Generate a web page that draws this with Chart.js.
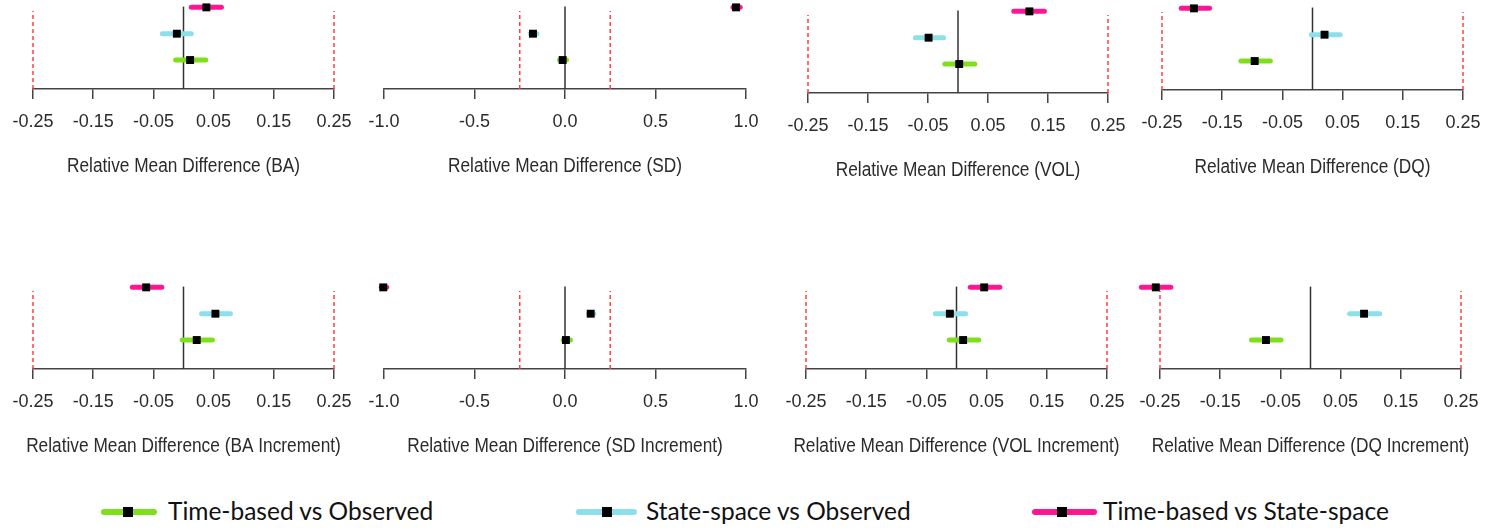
<!DOCTYPE html>
<html>
<head>
<meta charset="utf-8">
<script src="https://cdn.jsdelivr.net/npm/chart.js@4.4.1/dist/chart.umd.min.js"></script>
<style>
    body {
        margin: 0;
        width: 1491px;
        height: 530px;
        background: #fff;
        position: relative;
        overflow: hidden;
    }
    .panel {
        position: absolute;
    }
    .key-line {
        position: absolute;
        height: 6px;
        border-radius: 3px;
    }
    .key-box {
        position: absolute;
        width: 10px;
        height: 10px;
        background: #000;
    }
    .key-text {
        position: absolute;
        font-family: Lato, 'Open Sans', sans-serif;
        font-size: 24.5px;
        line-height: 1.2;
        color: #111;
        white-space: nowrap;
    }
</style>
</head>
<body>
<script>
// comparisons (rows from bottom to top) and their colours
const comparisons = ['Time-based vs Observed', 'State-space vs Observed', 'Time-based vs State-space'];
const seriesColors = ['#7ee01a', '#8ddfea', '#ff1493'];
const rowPositions = [1, 2, 3];

const panelTitles = [
    'Relative Mean Difference (BA)',
    'Relative Mean Difference (SD)',
    'Relative Mean Difference (VOL)',
    'Relative Mean Difference (DQ)',
    'Relative Mean Difference (BA Increment)',
    'Relative Mean Difference (SD Increment)',
    'Relative Mean Difference (VOL Increment)',
    'Relative Mean Difference (DQ Increment)'
];
const panelIsWide = [false, true, false, false, false, true, false, false];

const tickValuesNarrow = [-0.25, -0.15, -0.05, 0.05, 0.15, 0.25];
const tickLabelsNarrow = ['-0.25', '-0.15', '-0.05', '0.05', '0.15', '0.25'];
const tickValuesWide = [-1, -0.5, 0, 0.5, 1];
const tickLabelsWide = ['-1.0', '-0.5', '0.0', '0.5', '1.0'];
const equivalenceBounds = [-0.25, 0.25];

// Time-based vs Observed
const meanTimeObs = [0.011, -0.013, 0.002, -0.096, 0.022, 0.005, 0.011, -0.074];
const lowTimeObs = [-0.013, -0.030, -0.022, -0.119, -0.002, -0.010, -0.012, -0.098];
const highTimeObs = [0.037, 0.008, 0.028, -0.070, 0.048, 0.030, 0.037, -0.049];

// State-space vs Observed
const meanStateObs = [-0.011, -0.177, -0.049, 0.020, 0.053, 0.142, -0.011, 0.089];
const lowStateObs = [-0.035, -0.192, -0.071, -0.002, 0.030, 0.130, -0.035, 0.065];
const highStateObs = [0.013, -0.155, -0.024, 0.046, 0.078, 0.160, 0.015, 0.115];

// Time-based vs State-space
const meanTimeState = [0.038, 0.945, 0.119, -0.197, -0.062, -1.004, 0.046, -0.257];
const lowTimeState = [0.013, 0.928, 0.093, -0.218, -0.085, -1.015, 0.023, -0.281];
const highTimeState = [0.063, 0.968, 0.144, -0.171, -0.036, -0.985, 0.072, -0.232];

const means = [meanTimeObs, meanStateObs, meanTimeState];
const lows = [lowTimeObs, lowStateObs, lowTimeState];
const highs = [highTimeObs, highStateObs, highTimeState];

// page layout of each panel: axis start, axis end, axis line y
const panelBoxes = [
    { left: 33, right: 334, axisY: 89 },
    { left: 384, right: 746, axisY: 89 },
    { left: 808, right: 1108, axisY: 93 },
    { left: 1162, right: 1463, axisY: 90 },
    { left: 33, right: 334, axisY: 369 },
    { left: 384, right: 746, axisY: 369 },
    { left: 806, right: 1107, axisY: 369 },
    { left: 1160, right: 1461, axisY: 369 }
];

const legendBoxes = [
    { lineLeft: 101, lineWidth: 56, boxX: 128, textLeft: 168 },
    { lineLeft: 576, lineWidth: 61, boxX: 607, textLeft: 646 },
    { lineLeft: 1032, lineWidth: 65, boxX: 1062, textLeft: 1103 }
];

const tickFont = { family: "'Liberation Sans', Arial, sans-serif", size: 18 };
const plotHeight = 89;
const axisBoxHeight = 92;
const padX = 40;
const yMin = -0.1;
const yMax = 3.28;

// axis title under the panel; drawn here so long titles are not squeezed to the axis width
const panelTitlePlugin = {
    id: 'panelTitle',
    afterDraw(chart, args, opts) {
        const { ctx, chartArea } = chart;
        ctx.save();
        ctx.translate((chartArea.left + chartArea.right) / 2, chartArea.bottom + 77);
        ctx.scale(1, 1.2);
        ctx.font = "17.3px 'Liberation Sans', Arial, sans-serif";
        ctx.fillStyle = '#2b2b2b';
        ctx.textAlign = 'center';
        ctx.textBaseline = 'middle';
        ctx.fillText(opts.text, 0, 0);
        ctx.restore();
    }
};

function buildPanel(i) {
    const box = panelBoxes[i];
    const tickValues = panelIsWide[i] ? tickValuesWide : tickValuesNarrow;
    const tickLabels = panelIsWide[i] ? tickLabelsWide : tickLabelsNarrow;

    const canvas = document.createElement('canvas');
    canvas.className = 'panel';
    canvas.width = box.right - box.left + 2 * padX;
    canvas.height = plotHeight + axisBoxHeight;
    canvas.style.left = (box.left - padX) + 'px';
    canvas.style.top = (box.axisY - plotHeight) + 'px';
    document.body.appendChild(canvas);

    const datasets = [];

    // black squares at the mean
    datasets.push({
        data: rowPositions.map((row, s) => ({ x: means[s][i], y: row })),
        pointStyle: 'rect',
        pointRadius: 5.6,
        backgroundColor: '#000',
        borderWidth: 0,
        order: 0,
        clip: false
    });

    // interval bars
    rowPositions.forEach((row, s) => {
        datasets.push({
            data: [{ x: lows[s][i], y: row }, { x: highs[s][i], y: row }],
            showLine: true,
            borderColor: seriesColors[s],
            borderWidth: 5,
            borderCapStyle: 'round',
            pointRadius: 0,
            order: 1,
            clip: false
        });
    });

    // zero line
    datasets.push({
        data: [{ x: 0, y: yMin }, { x: 0, y: 3.03 }],
        showLine: true,
        borderColor: '#333',
        borderWidth: 1.5,
        pointRadius: 0,
        order: 2,
        clip: false
    });

    // equivalence bounds
    equivalenceBounds.forEach(bound => {
        datasets.push({
            data: [{ x: bound, y: yMin }, { x: bound, y: 2.86 }],
            showLine: true,
            borderColor: '#ff4040',
            borderWidth: 1.5,
            borderDash: [4, 3],
            pointRadius: 0,
            order: 3,
            clip: false
        });
    });

    new Chart(canvas, {
        type: 'scatter',
        data: { datasets: datasets },
        plugins: [panelTitlePlugin],
        options: {
            responsive: false,
            animation: false,
            events: [],
            layout: { autoPadding: false, padding: { left: padX, right: padX, top: 0, bottom: 0 } },
            plugins: {
                legend: { display: false },
                tooltip: { enabled: false },
                panelTitle: { text: panelTitles[i] }
            },
            scales: {
                x: {
                    type: 'linear',
                    min: tickValues[0],
                    max: tickValues[tickValues.length - 1],
                    afterBuildTicks: scale => {
                        scale.ticks = tickValues.map(v => ({ value: v }));
                    },
                    afterFit: scale => {
                        scale.height = axisBoxHeight;
                    },
                    ticks: {
                        autoSkip: false,
                        maxRotation: 0,
                        padding: 12,
                        color: '#2b2b2b',
                        font: tickFont,
                        callback: (value, index) => tickLabels[index]
                    },
                    grid: {
                        drawOnChartArea: false,
                        drawTicks: true,
                        tickLength: 10,
                        color: '#444',
                        lineWidth: 1.5
                    },
                    border: { display: true, color: '#444', width: 1.5 }
                },
                y: {
                    type: 'linear',
                    display: false,
                    min: yMin,
                    max: yMax
                }
            }
        }
    });
}

function buildLegend() {
    comparisons.forEach((label, s) => {
        const b = legendBoxes[s];
        const line = document.createElement('div');
        line.className = 'key-line';
        line.style.left = b.lineLeft + 'px';
        line.style.width = b.lineWidth + 'px';
        line.style.top = '509px';
        line.style.background = seriesColors[s];
        document.body.appendChild(line);

        const square = document.createElement('div');
        square.className = 'key-box';
        square.style.left = (b.boxX - 5) + 'px';
        square.style.top = '507px';
        document.body.appendChild(square);

        const text = document.createElement('div');
        text.className = 'key-text';
        text.style.left = b.textLeft + 'px';
        text.style.top = '496px';
        text.textContent = label;
        document.body.appendChild(text);
    });
}

panelTitles.forEach((title, i) => buildPanel(i));
buildLegend();
</script>
</body>
</html>
